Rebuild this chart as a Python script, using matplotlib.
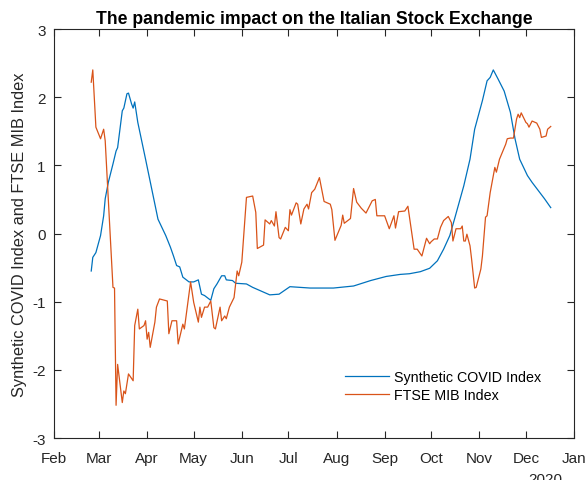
import pandas as pd
import numpy as np
import matplotlib
matplotlib.use("Agg")
import matplotlib.pyplot as plt
import matplotlib.dates as mdates

plt.rcParams['font.family'] = ['Liberation Sans', 'DejaVu Sans']
plt.rcParams['axes.unicode_minus'] = False

# Synthetic COVID Index
covid_fechas = [
    "2020-02-25", "2020-02-26", "2020-02-28", "2020-03-02", "2020-03-04", "2020-03-05",
    "2020-03-07", "2020-03-10", "2020-03-12", "2020-03-13", "2020-03-16", "2020-03-17",
    "2020-03-19", "2020-03-20", "2020-03-22", "2020-03-23", "2020-03-24", "2020-03-26",
    "2020-03-31", "2020-04-04", "2020-04-08", "2020-04-13", "2020-04-16", "2020-04-18",
    "2020-04-20", "2020-04-22", "2020-04-24", "2020-04-28", "2020-05-01", "2020-05-04",
    "2020-05-06", "2020-05-08", "2020-05-12", "2020-05-14", "2020-05-16", "2020-05-19",
    "2020-05-21", "2020-05-22", "2020-05-26", "2020-05-28", "2020-06-04", "2020-06-08",
    "2020-06-13", "2020-06-19", "2020-06-25", "2020-07-02", "2020-07-15", "2020-07-30",
    "2020-08-12", "2020-08-23", "2020-09-02", "2020-09-11", "2020-09-17", "2020-09-24",
    "2020-09-30", "2020-10-05", "2020-10-09", "2020-10-13", "2020-10-16", "2020-10-22",
    "2020-10-26", "2020-10-29", "2020-11-03", "2020-11-06", "2020-11-08", "2020-11-10",
    "2020-11-13", "2020-11-17", "2020-11-21", "2020-11-24", "2020-11-27", "2020-12-02",
    "2020-12-05", "2020-12-09", "2020-12-13", "2020-12-17",
]
covid_valores = [
    -0.55, -0.35, -0.28, -0.03, 0.26, 0.51,
    0.75, 1.02, 1.21, 1.26, 1.80, 1.84,
    2.05, 2.06, 1.90, 1.84, 1.93, 1.63,
    1.09, 0.65, 0.21, -0.03, -0.20, -0.33,
    -0.47, -0.49, -0.64, -0.71, -0.71, -0.68,
    -0.89, -0.91, -0.98, -0.81, -0.74, -0.62,
    -0.62, -0.68, -0.69, -0.73, -0.74, -0.79,
    -0.84, -0.90, -0.89, -0.78, -0.80, -0.80,
    -0.77, -0.69, -0.63, -0.60, -0.59, -0.56,
    -0.51, -0.40, -0.23, -0.03, 0.21, 0.70,
    1.09, 1.53, 1.95, 2.24, 2.29, 2.40,
    2.27, 2.09, 1.78, 1.39, 1.09, 0.85,
    0.75, 0.63, 0.51, 0.38,
]

# FTSE MIB Index (estandarizado)
ftse_fechas = [
    "2020-02-25", "2020-02-26", "2020-02-28", "2020-03-02", "2020-03-04", "2020-03-05",
    "2020-03-10", "2020-03-11", "2020-03-12", "2020-03-13", "2020-03-16", "2020-03-17",
    "2020-03-18", "2020-03-20", "2020-03-23", "2020-03-24", "2020-03-26", "2020-03-27",
    "2020-03-30", "2020-03-31", "2020-04-01", "2020-04-02", "2020-04-03", "2020-04-06",
    "2020-04-07", "2020-04-09", "2020-04-14", "2020-04-15", "2020-04-17", "2020-04-20",
    "2020-04-21", "2020-04-24", "2020-04-25", "2020-04-29", "2020-05-01", "2020-05-04",
    "2020-05-05", "2020-05-06", "2020-05-08", "2020-05-10", "2020-05-12", "2020-05-14",
    "2020-05-15", "2020-05-18", "2020-05-19", "2020-05-21", "2020-05-22", "2020-05-24",
    "2020-05-27", "2020-05-29", "2020-05-30", "2020-06-01", "2020-06-03", "2020-06-04",
    "2020-06-08", "2020-06-10", "2020-06-11", "2020-06-15", "2020-06-16", "2020-06-19",
    "2020-06-20", "2020-06-22", "2020-06-23", "2020-06-25", "2020-06-26", "2020-06-29",
    "2020-07-01", "2020-07-02", "2020-07-03", "2020-07-06", "2020-07-07", "2020-07-09",
    "2020-07-11", "2020-07-13", "2020-07-14", "2020-07-16", "2020-07-18", "2020-07-21",
    "2020-07-24", "2020-07-28", "2020-07-29", "2020-07-31", "2020-08-04", "2020-08-05",
    "2020-08-06", "2020-08-10", "2020-08-12", "2020-08-14", "2020-08-17", "2020-08-20",
    "2020-08-24", "2020-08-26", "2020-08-27", "2020-09-01", "2020-09-04", "2020-09-07",
    "2020-09-08", "2020-09-10", "2020-09-14", "2020-09-16", "2020-09-20", "2020-09-22",
    "2020-09-25", "2020-09-28", "2020-09-30", "2020-10-01", "2020-10-03", "2020-10-05",
    "2020-10-07", "2020-10-09", "2020-10-12", "2020-10-14", "2020-10-15", "2020-10-17",
    "2020-10-20", "2020-10-21", "2020-10-22", "2020-10-23", "2020-10-24", "2020-10-26",
    "2020-10-27", "2020-10-29", "2020-10-30", "2020-11-02", "2020-11-03", "2020-11-05",
    "2020-11-06", "2020-11-08", "2020-11-10", "2020-11-11", "2020-11-12", "2020-11-14",
    "2020-11-18", "2020-11-19", "2020-11-21", "2020-11-23", "2020-11-25", "2020-11-26",
    "2020-11-27", "2020-11-28", "2020-12-01", "2020-12-02", "2020-12-03", "2020-12-05",
    "2020-12-08", "2020-12-10", "2020-12-11", "2020-12-14", "2020-12-15", "2020-12-17",
]
ftse_valores = [
    2.22, 2.40, 1.56, 1.39, 1.53, 1.36,
    -0.79, -0.80, -2.52, -1.92, -2.48, -2.31,
    -2.35, -2.06, -2.16, -1.35, -1.11, -1.40,
    -1.35, -1.28, -1.55, -1.45, -1.67, -1.30,
    -1.08, -0.96, -0.99, -1.47, -1.28, -1.28,
    -1.62, -1.33, -1.40, -0.71, -1.01, -1.30,
    -1.08, -1.23, -1.08, -1.08, -0.99, -1.38,
    -1.40, -1.08, -1.28, -1.21, -1.25, -1.08,
    -0.94, -0.55, -0.62, -0.42, 0.21, 0.53,
    0.55, 0.31, -0.22, -0.17, 0.20, 0.14,
    0.19, 0.11, 0.32, -0.06, -0.08, 0.09,
    0.04, 0.35, 0.27, 0.45, 0.43, 0.14,
    0.36, 0.43, 0.36, 0.60, 0.65, 0.82,
    0.47, 0.43, 0.35, -0.10, 0.12, 0.27,
    0.15, 0.22, 0.66, 0.46, 0.37, 0.30,
    0.48, 0.50, 0.26, 0.26, 0.07, 0.26,
    0.08, 0.32, 0.33, 0.40, -0.23, -0.23,
    -0.33, -0.07, -0.15, -0.12, -0.08, -0.08,
    0.09, 0.19, 0.25, 0.16, -0.11, 0.07,
    0.07, 0.11, -0.11, -0.11, -0.01, -0.18,
    -0.37, -0.80, -0.79, -0.52, -0.33, 0.24,
    0.26, 0.60, 0.85, 0.97, 0.90, 1.09,
    1.31, 1.39, 1.40, 1.40, 1.68, 1.75,
    1.70, 1.77, 1.63, 1.61, 1.56, 1.65,
    1.62, 1.53, 1.41, 1.43, 1.53, 1.57,
]

meses = ["Feb", "Mar", "Apr", "May", "Jun", "Jul", "Aug", "Sep", "Oct", "Nov", "Dec", "Jan"]
meses_ticks = pd.date_range("2020-02-01", "2021-01-01", freq="MS")

azul = "#0072BD"
naranja = "#D95319"
gris = "#262626"

fig = plt.figure(figsize=(5.88, 4.81), dpi=100)
ax = fig.add_axes([0.0918, 0.0873, 0.8844, 0.8503])

ax.plot(pd.to_datetime(covid_fechas), covid_valores, color=azul, lw=0.9, label="Synthetic COVID Index")
ax.plot(pd.to_datetime(ftse_fechas), ftse_valores, color=naranja, lw=0.9, label="FTSE MIB Index")

ax.set_xlim(pd.Timestamp("2020-02-01"), pd.Timestamp("2021-01-01"))
ax.set_ylim(-3, 3)
ax.set_xticks(meses_ticks)
ax.set_xticklabels(meses)
ax.set_yticks([-3, -2, -1, 0, 1, 2, 3])

for s in ax.spines.values():
    s.set_color(gris)
    s.set_linewidth(0.8)
ax.tick_params(direction="in", length=5, width=0.8, color=gris, labelcolor=gris,
               labelsize=11, top=True, right=True)
ax.tick_params(axis="x", pad=9)
ax.tick_params(axis="y", pad=6)

ax.set_ylabel("Synthetic COVID Index and FTSE MIB Index", fontsize=11.8, color=gris)
ax.set_title("The pandemic impact on the Italian Stock Exchange", fontsize=12.7,
             fontweight="bold", pad=4)
ax.text(0.9455, -0.082, "2020", transform=ax.transAxes, ha="center", va="top",
        fontsize=11, color=gris)

ax.legend(loc="upper left", bbox_to_anchor=(0.5596, 0.166), frameon=False,
          borderpad=0, borderaxespad=0, handlelength=3.1, handletextpad=0.35,
          labelspacing=0.3, fontsize=10.3)

fig.savefig("out.png", dpi=100)
